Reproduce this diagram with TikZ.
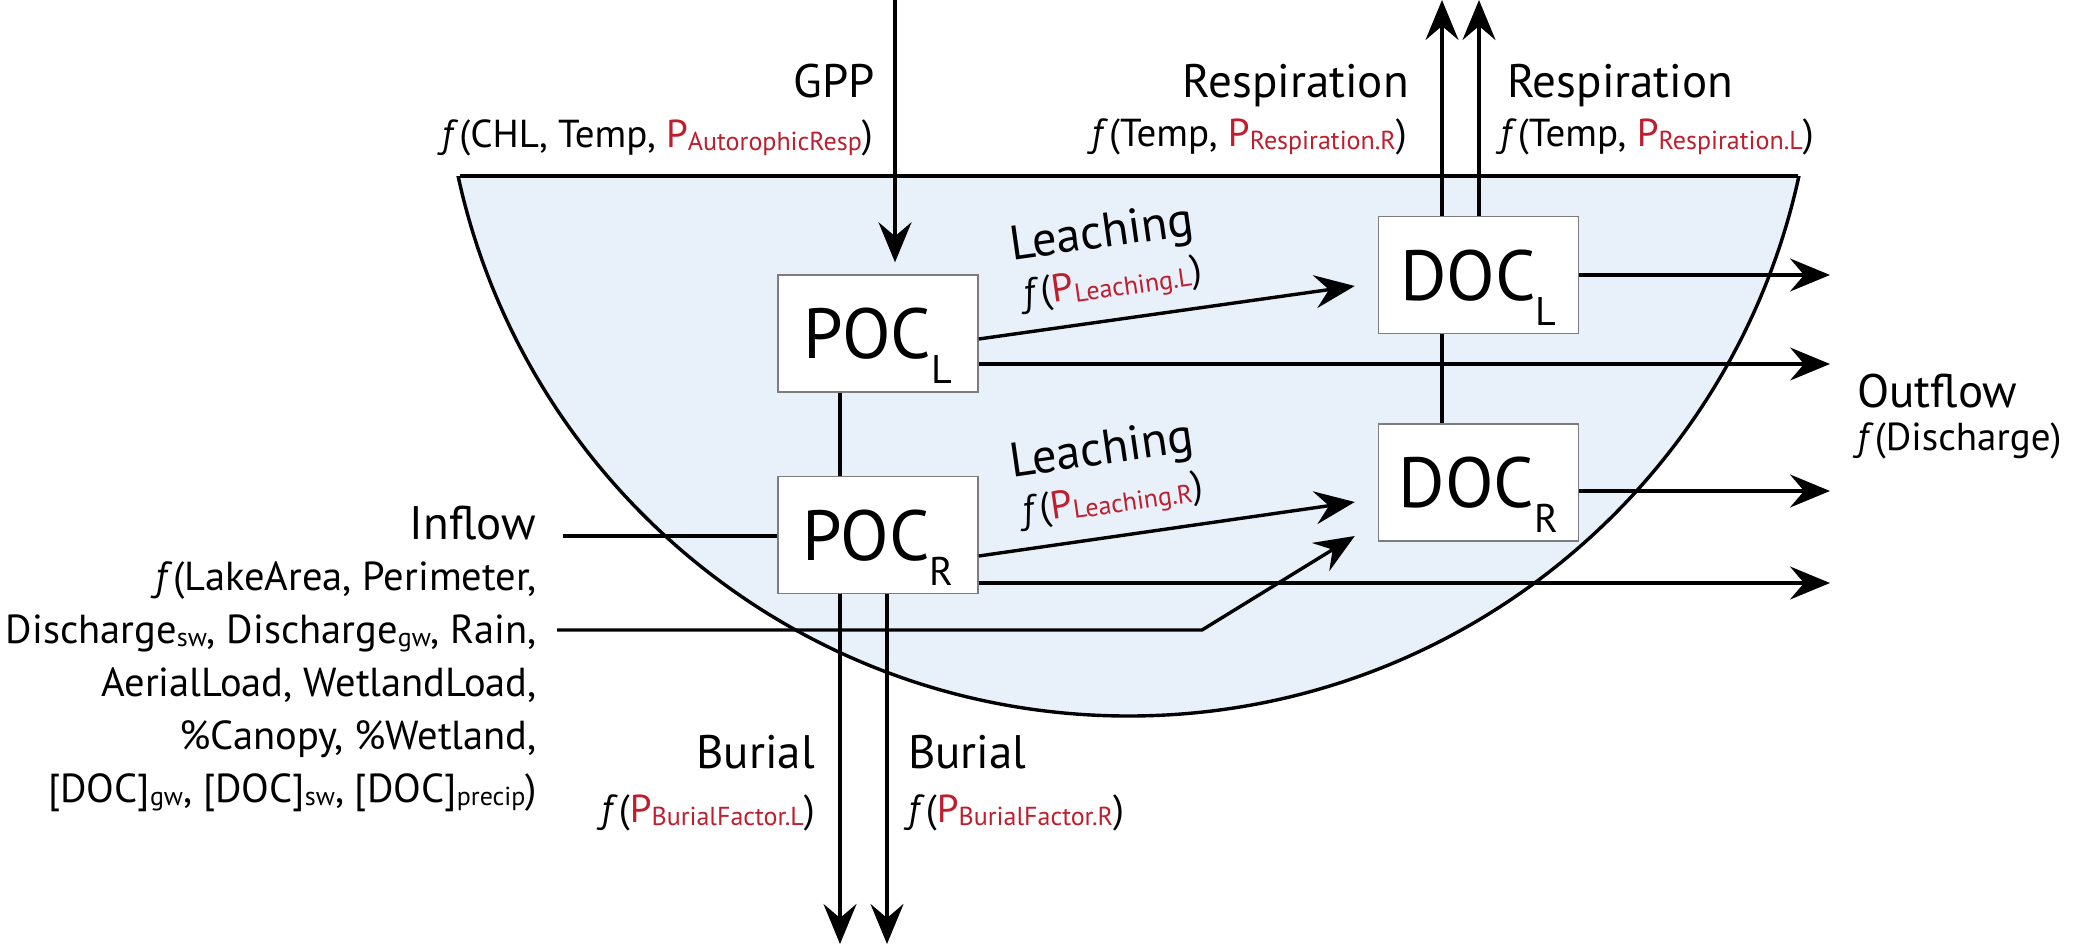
\documentclass[tikz,border=0pt]{standalone}
\usepackage{fontspec}
\setmainfont{PT Sans}
\usetikzlibrary{arrows.meta}
\definecolor{lakeblue}{RGB}{232,240,250}
\definecolor{pred}{RGB}{190,30,45}
\definecolor{boxgray}{RGB}{125,125,125}
\newcommand{\lblfont}{\fontsize{47}{50}\selectfont}
\newcommand{\leafont}{\fontsize{48.5}{50}\selectfont}
\newcommand{\secfont}{\fontsize{39}{42}\selectfont}
\newcommand{\inffont}{\fontsize{40.5}{42}\selectfont}
\newcommand{\boxfont}{\fontsize{71}{71}\selectfont}
\newcommand{\boxsubfont}{\fontsize{40}{40}\selectfont}
\newcommand{\fx}{\textit{f}\kern1pt}
\newcommand{\sbs}[1]{\raisebox{-3pt}{\fontsize{26}{26}\selectfont #1}}
\newcommand{\Pp}[1]{\textcolor{pred}{P\sbs{#1}}}
\newcommand{\boxtxt}[2]{{\boxfont #1}\raisebox{-25pt}{\boxsubfont #2}}
\begin{document}
\begin{tikzpicture}[x=1pt,y=-1pt,
  ln/.style={line width=3.4pt},
  arr/.style={ln, -{Stealth[length=40pt,width=33pt,inset=14pt]}},
  pool/.style={draw=boxgray, line width=1.5pt, fill=white, minimum width=200pt,
    minimum height=117pt, inner sep=0pt, text height=50pt, text depth=0pt},
  lbl/.style={inner sep=0pt, font=\lblfont},
  lea/.style={inner sep=0pt, font=\leafont},
  sec/.style={inner sep=0pt, font=\secfont},
  inft/.style={inner sep=0pt, font=\inffont}]
\useasboundingbox (0,0) rectangle (2075,945);
% lake
\begin{scope}
  \clip (0,176) rectangle (2075,945);
  \fill[lakeblue] (1128.5,30) circle[radius=686];
  \draw[ln] (1128.5,30) circle[radius=686];
\end{scope}
\coordinate (lakeL) at (459.5,176);
\coordinate (lakeR) at (1797.5,176);
\draw[ln] (lakeL) -- (lakeR);
% pools
\node[pool] (pocl) at (878,333.5) {\boxtxt{POC}{L}};
\node[pool] (pocr) at (878,535) {\boxtxt{POC}{R}};
\node[pool] (docl) at (1478.5,275) {\boxtxt{DOC}{L}};
\node[pool] (docr) at (1478.5,482.5) {\boxtxt{DOC}{R}};
% helper coordinates
\coordinate (top) at (0,0);
\coordinate (bot) at (0,944);
\coordinate (xout) at (1830,0);
\coordinate (xgpp) at (895,0);
\coordinate (xbL) at (840,0);
\coordinate (xbR) at (887,0);
\coordinate (xrR) at (1442,0);
\coordinate (xrL) at (1479,0);
% GPP
\draw[arr, shorten >=12pt] (xgpp) -- (xgpp |- pocl.north);
% vertical links
\draw[ln] (pocl.south -| xbL) -- (pocr.north -| xbL);
\draw[ln] (docl.south -| xrR) -- (docr.north -| xrR);
% burial
\draw[arr] (pocr.south -| xbL) -- (xbL |- bot);
\draw[arr] (pocr.south -| xbR) -- (xbR |- bot);
% respiration
\draw[arr] (docl.north -| xrR) -- (xrR |- top);
\draw[arr] (docl.north -| xrL) -- (xrL |- top);
% outflows
\coordinate (o1) at (docl.east);
\coordinate (o2) at ([shift={(0,30.5)}]pocl.east);
\coordinate (o3) at ([shift={(0,8.5)}]docr.east);
\coordinate (o4) at ([shift={(0,48)}]pocr.east);
\draw[arr] (o1) -- (o1 -| xout);
\draw[arr] (o2) -- (o2 -| xout);
\draw[arr] (o3) -- (o3 -| xout);
\draw[arr] (o4) -- (o4 -| xout);
% leaching
\draw[arr] ([shift={(0,5.5)}]pocl.east) -- ([shift={(-23,11)}]docl.west)
  node[sec, sloped, pos=0.37, anchor=base, yshift=26pt] (leLf) {\fx(\Pp{Leaching.L})}
  node[lea, sloped, pos=0.36, anchor=base, yshift=73pt] (leL) {Leaching};
\draw[arr] ([shift={(0,21)}]pocr.east) -- ([shift={(-23,19.5)}]docr.west)
  node[sec, sloped, pos=0.37, anchor=base, yshift=26pt] (leRf) {\fx(\Pp{Leaching.R})}
  node[lea, sloped, pos=0.36, anchor=base, yshift=73pt] (leR) {Leaching};
% inflows
\coordinate (in1) at (563,536);
\coordinate (in2) at (557,630);
\coordinate (bend) at (1202,630);
\draw[ln] (in1) -- (in1 -| pocr.west);
\draw[arr] (in2) -- (bend) -- ([shift={(-23,53.5)}]docr.west);
% labels
\node[lbl, anchor=base east] (gpp) at (875,97) {GPP};
\node[sec, anchor=base east] (gppf) at (873,147) {\fx(CHL, Temp, \Pp{AutorophicResp})};
\node[lbl, anchor=base east] (resR) at (1409,97) {Respiration};
\node[sec, anchor=base east] (resRf) at (1407,146) {\fx(Temp, \Pp{Respiration.R})};
\node[lbl, anchor=base west] (resL) at (1507,97) {Respiration};
\node[sec, anchor=base west] (resLf) at (1500,146) {\fx(Temp, \Pp{Respiration.L})};
\node[lbl, anchor=base west] (outf) at (1857,407) {Outflow};
\node[sec, anchor=base west] (outff) at (1857,450) {\fx(Discharge)};
\node[lbl, anchor=base east] (burL) at (815,768) {Burial};
\node[sec, anchor=base east] (burLf) at (815,822) {\fx(\Pp{BurialFactor.L})};
\node[lbl, anchor=base west] (burR) at (908,768) {Burial};
\node[sec, anchor=base west] (burRf) at (908,822) {\fx(\Pp{BurialFactor.R})};
\node[lbl, anchor=base east] (inf) at (536,539) {Inflow};
\node[inft, anchor=base east] (inf1) at (537,590) {\fx(LakeArea, Perimeter,};
\node[inft, anchor=base east] (inf2) at (537,643) {Discharge\sbs{sw}, Discharge\sbs{gw}, Rain,};
\node[inft, anchor=base east] (inf3) at (537,696) {AerialLoad, WetlandLoad,};
\node[inft, anchor=base east] (inf4) at (537,749) {\%Canopy, \%Wetland,};
\node[inft, anchor=base east] (inf5) at (537,802) {[DOC]\sbs{gw}, [DOC]\sbs{sw}, [DOC]\sbs{precip})};
\end{tikzpicture}
\end{document}
